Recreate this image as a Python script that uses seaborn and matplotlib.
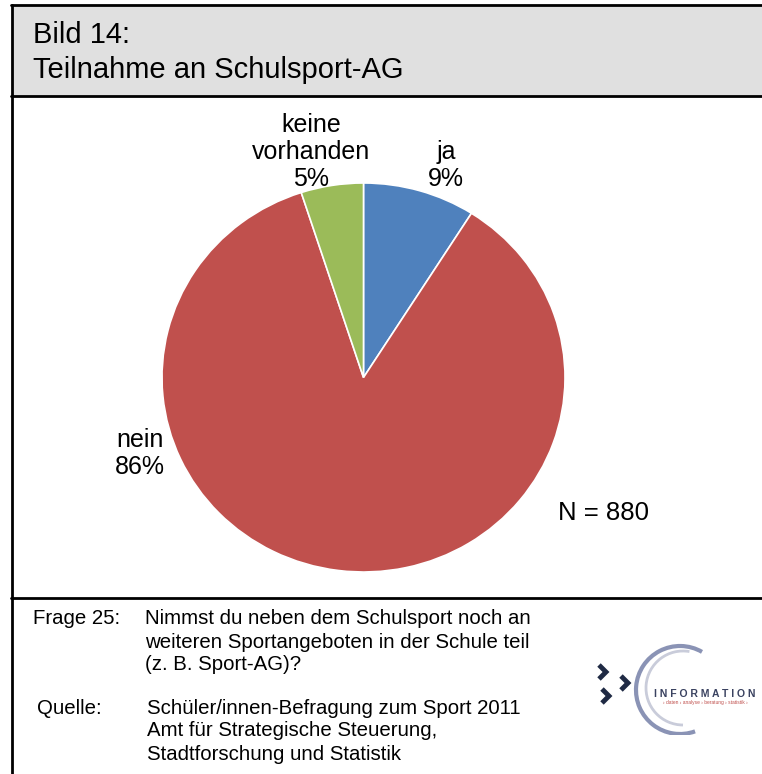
import matplotlib
matplotlib.use("Agg")
import matplotlib.pyplot as plt
import seaborn as sns
from matplotlib.lines import Line2D
from matplotlib.patches import Rectangle, Arc

# -----------------------------
# Data
# -----------------------------
categories = ["ja", "nein", "keine\nvorhanden"]
shares = [9, 86, 5]
colors = ["#4F81BD", "#C0504D", "#9BBB59"]
n_total = 880

title_lines = ["Bild 14:", "Teilnahme an Schulsport-AG"]
frage_label = "Frage 25:"
frage_text = ["Nimmst du neben dem Schulsport noch an",
              "weiteren Sportangeboten in der Schule teil",
              "(z. B. Sport-AG)?"]
quelle_label = "Quelle:"
quelle_text = ["Schüler/innen-Befragung zum Sport 2011",
               "Amt für Strategische Steuerung,",
               "Stadtforschung und Statistik"]

# -----------------------------
# Theme
# -----------------------------
sns.set_theme(style="white")
plt.rcParams["font.family"] = ["Liberation Sans", "DejaVu Sans"]
plt.rcParams["text.color"] = "black"

W, H = 762, 774
fig = plt.figure(figsize=(W / 100, H / 100), dpi=100)
fig.patch.set_facecolor("white")


def fx(x):
    return x / W


def fy(y):
    return 1 - y / H


# -----------------------------
# Frame + header
# -----------------------------
fig.add_artist(Rectangle((fx(12), fy(96)), 1 - fx(12), fy(5) - fy(96),
                         transform=fig.transFigure, facecolor="#E0E0E0",
                         edgecolor="none", zorder=0))
for (x0, y0, x1, y1) in [(11, 5, W, 5), (11, 96, W, 96), (11, 598, W, 598),
                         (12, 5, 12, H)]:
    fig.add_artist(Line2D([fx(x0), fx(x1)], [fy(y0), fy(y1)],
                          transform=fig.transFigure, color="black", lw=2.0))

fig.text(fx(33), fy(35), title_lines[0], fontsize=21, va="center", ha="left")
fig.text(fx(33), fy(70), title_lines[1], fontsize=21, va="center", ha="left")

# -----------------------------
# Pie (slightly wider than tall, like the original)
# -----------------------------
cx, cy, rx, ry = 363.5, 377.5, 201.5, 194.5
ax = fig.add_axes([fx(cx - rx), fy(cy + ry), 2 * rx / W, 2 * ry / H])
labels = [f"{c}\n{v}%" for c, v in zip(categories, shares)]
wedges, texts = ax.pie(
    shares,
    labels=labels,
    colors=colors,
    startangle=90,
    counterclock=False,
    wedgeprops=dict(edgecolor="white", linewidth=1.2),
    textprops=dict(fontsize=18, ha="center", va="center", linespacing=1.15),
)
label_pos = [(0.41, 1.09), (-1.11, -0.39), (-0.26, 1.16)]
for t, p in zip(texts, label_pos):
    t.set_position(p)
    t.set_horizontalalignment("center")
    t.set_verticalalignment("center")
    t.set_multialignment("center")
ax.set_xlim(-1, 1)
ax.set_ylim(-1, 1)
ax.set_aspect("auto")
ax.axis("off")

fig.text(fx(603), fy(513), f"N = {n_total}", fontsize=18.5, va="center", ha="center")

# -----------------------------
# Footer text
# -----------------------------
fig.text(fx(33), fy(619), frage_label, fontsize=14.7, va="center", ha="left")
for i, line in enumerate(frage_text):
    fig.text(fx(145), fy(619 + 23 * i), line, fontsize=14.7, va="center", ha="left")
fig.text(fx(37), fy(708), quelle_label, fontsize=14.7, va="center", ha="left")
for i, line in enumerate(quelle_text):
    fig.text(fx(147), fy(708 + 23 * i), line, fontsize=14.7, va="center", ha="left")

# -----------------------------
# Logo (approximation)
# -----------------------------
lax = fig.add_axes([fx(585), fy(735), 177 / W, 100 / H])
lax.set_xlim(585, 762)
lax.set_ylim(735, 635)
lax.axis("off")
lax.add_patch(Arc((680, 690), 88, 88, theta1=70, theta2=300, color="#8A93B5", lw=3))
lax.add_patch(Arc((683, 688), 74, 74, theta1=90, theta2=280, color="#C9CCDA", lw=2))
for (x, y) in [(603, 672), (625, 683), (606, 696)]:
    lax.plot([x - 4, x + 3, x - 4], [y - 7, y, y + 7], color="#1F2A44", lw=3.5,
             solid_capstyle="butt", solid_joinstyle="miter")
lax.text(705, 694, "I N F O R M A T I O N", fontsize=7.5, fontweight="bold",
         color="#3A4260", ha="center", va="center")
lax.text(705, 703, "› daten › analyse › beratung › statistik ›", fontsize=3.5,
         color="#C0504D", ha="center", va="center")

fig.savefig("out.png", dpi=100)
